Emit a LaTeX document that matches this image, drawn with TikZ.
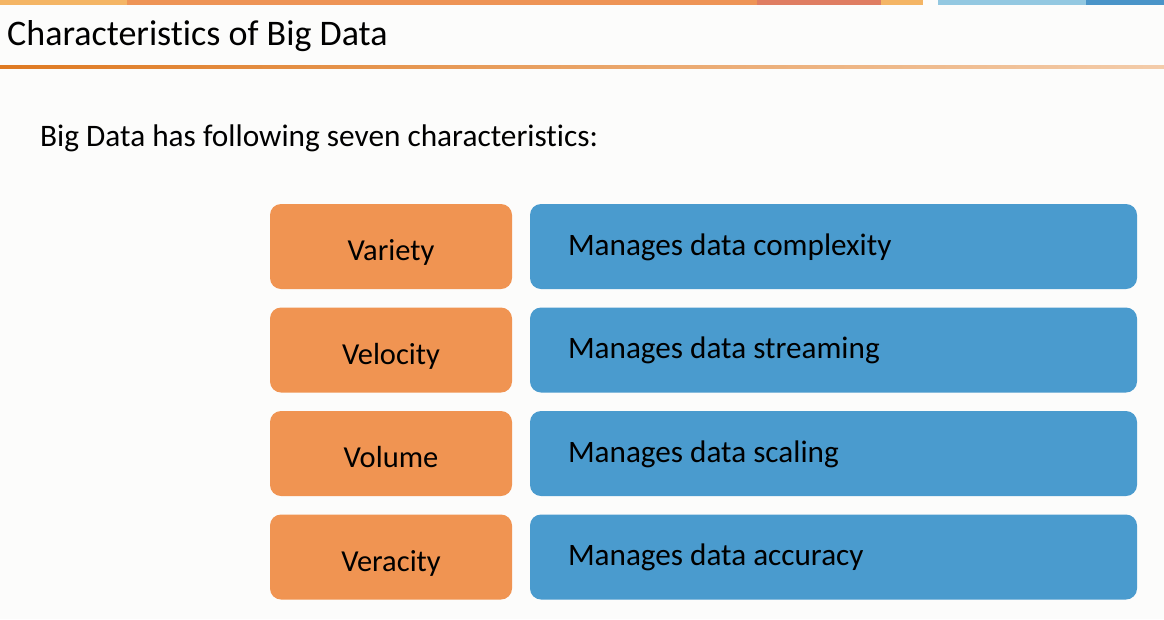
\documentclass[tikz,border=0pt]{standalone}
\usepackage{fontspec}
\setmainfont{Carlito}[Ligatures={NoCommon}]
\definecolor{pagebg}{HTML}{FCFCFB}
\definecolor{barA}{HTML}{F4B565}
\definecolor{barB}{HTML}{EE9456}
\definecolor{barC}{HTML}{DF7D62}
\definecolor{barD}{HTML}{93C8E1}
\definecolor{barE}{HTML}{4A94C8}
\definecolor{ruleA}{HTML}{DF7A22}
\definecolor{ruleB}{HTML}{FDF5EE}
\definecolor{termfill}{HTML}{F09452}
\definecolor{descfill}{HTML}{4A9BCE}
\pgfdeclarehorizontalshading{titlerule}{100bp}{color(0bp)=(ruleA); color(25bp)=(ruleA); color(100bp)=(ruleB)}
\tikzset{
  termbox/.style={fill=termfill, rounded corners=11pt, minimum width=242pt, minimum height=85pt, inner sep=0pt},
  descbox/.style={fill=descfill, rounded corners=11pt, minimum width=607pt, minimum height=85pt, inner sep=0pt},
  termtext/.style={anchor=base, inner sep=0pt, font=\fontsize{30.5}{36}\selectfont, text=black},
  desctext/.style={anchor=base west, inner sep=0pt, font=\fontsize{31.2}{36}\selectfont, text=black},
}
\begin{document}
\begin{tikzpicture}[x=1pt, y=-1pt]
  \useasboundingbox (0,0) rectangle (1164,619);
  \fill[pagebg] (0,0) rectangle (1164,619);
  % coloured strip along the top edge
  \fill[barA] (0,0) rectangle (127,4.5);
  \fill[barB] (127,0) rectangle (757,4.5);
  \fill[barC] (757,0) rectangle (881,4.5);
  \fill[barA] (881,0) rectangle (923,4.5);
  \fill[barD] (938,0) rectangle (1086,4.5);
  \fill[barE] (1086,0) rectangle (1164,4.5);
  % title and its fading rule
  \node[anchor=base west, inner sep=0pt, font=\fontsize{36}{42}\selectfont] (title) at (7,45) {Characteristics of Big Data};
  \shade[shading=titlerule] (0,65.5) rectangle (1164,68.5);
  \node[anchor=base west, inner sep=0pt, font=\fontsize{31.3}{36}\selectfont] (intro) at (40,146) {Big Data has following seven characteristics:};
  % rows of characteristics
  \foreach \i/\term/\desc [count=\k] in {0/Variety/complexity, 1/Velocity/streaming, 2/Volume/scaling, 3/Veracity/accuracy}{
    \pgfmathsetmacro{\cy}{246.5+103.5*\i}
    \node[termbox] (term\k) at (391,\cy) {};
    \node[descbox] (desc\k) at (833.5,\cy) {};
    \node[termtext] (termlabel\k) at ([yshift=-14pt]term\k.center) {\term};
    \node[desctext] (desclabel\k) at ([xshift=38pt, yshift=-8.5pt]desc\k.west) {Manages data \desc};
  }
\end{tikzpicture}
\end{document}
